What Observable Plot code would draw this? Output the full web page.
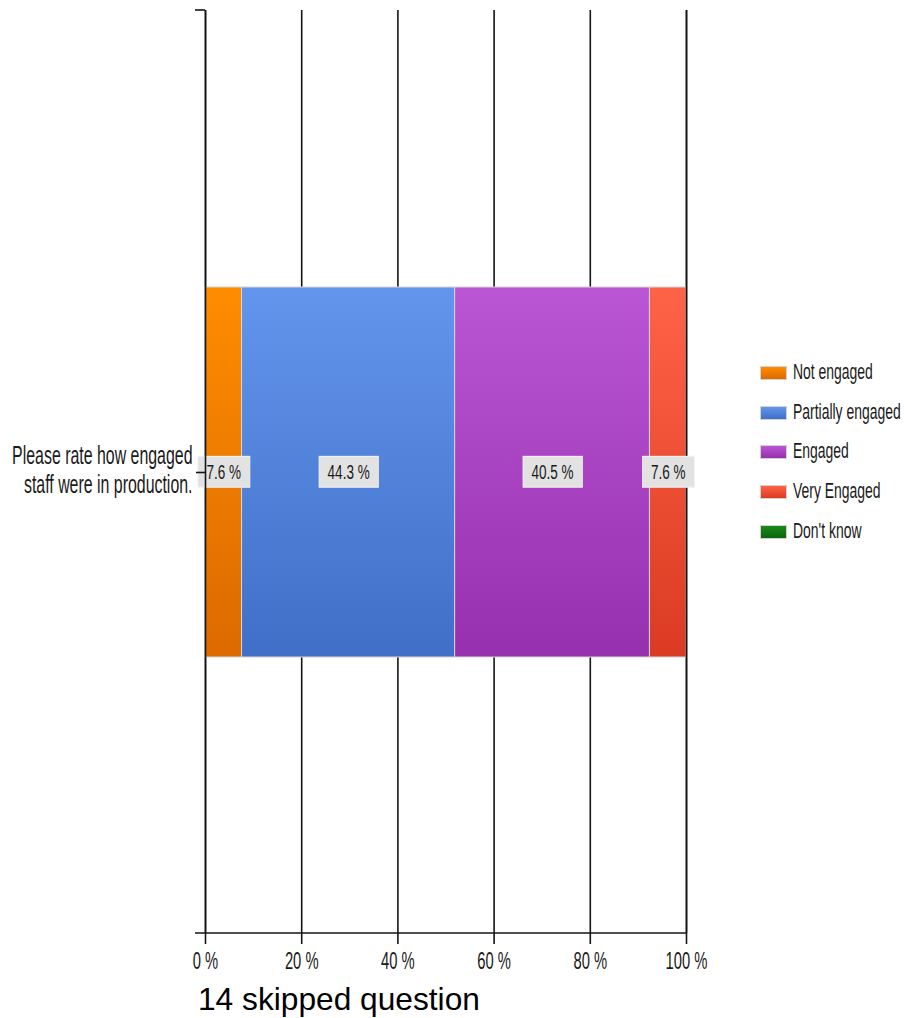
<!DOCTYPE html>
<html>
<head>
<meta charset="utf-8">
<script src="https://cdn.jsdelivr.net/npm/d3@7"></script>
<script src="https://cdn.jsdelivr.net/npm/@observablehq/plot@0.6"></script>
<style>
  html, body { margin: 0; padding: 0; background: #fff; }
  #chart { position: relative; width: 904px; height: 1018px; overflow: hidden; }
  #legend { position: absolute; left: 760px; top: 353px; font-family: "Liberation Sans", Arial, sans-serif; }
  .item { display: flex; align-items: center; height: 39.75px; }
  .sw { width: 27px; height: 14px; box-sizing: border-box; border: 1px solid #d2d2d2; flex: none; }
  .lab { margin-left: 6px; font-size: 17px; color: #1a1a1a; transform: scale(0.82, 1.25); transform-origin: left center; white-space: nowrap; }
  #caption { position: absolute; left: 198px; top: 981px; font-family: "Liberation Sans", Arial, sans-serif; font-size: 31.7px; line-height: 36px; color: #000; white-space: nowrap; }
</style>
</head>
<body>
<div id="chart">
  <div id="legend"></div>
  <div id="caption"></div>
</div>
<script>
// Survey question and answer shares (percent of respondents)
const question = "Please rate how engaged staff were in production.";
const categories = ["Not engaged", "Partially engaged", "Engaged", "Very Engaged", "Don't know"];
const percents = [7.6, 44.3, 40.5, 7.6, 0];
const xTicks = [0, 20, 40, 60, 80, 100];
const skippedCount = 14;

// Palette: each answer is filled with a vertical gradient (light top, darker bottom)
const gradientTop = ["#ff8c00", "#6495ed", "#ba55d3", "#ff6347", "#1a8a1a"];
const gradientBottom = ["#dc6a00", "#3f6fc7", "#9630ae", "#da3b22", "#0b650b"];

const FONT = '"Liberation Sans", Arial, sans-serif';
const INK = "#151515";
const SVGNS = "http://www.w3.org/2000/svg";

// Break a long question into lines of limited length
function wrap(text, maxChars) {
  const lines = [];
  let line = "";
  for (const word of text.split(" ")) {
    const next = line ? line + " " + word : word;
    if (next.length > maxChars && line) { lines.push(line); line = word; }
    else line = next;
  }
  if (line) lines.push(line);
  return lines.join("\n");
}

const pct = v => `${v} %`;

const rows = categories
  .map((category, i) => ({question, category, value: percents[i]}))
  .filter(d => d.value > 0);

// Axis line along the bottom plus the short end stub at the top of the y axis
function axisFrame(index, scales, values, dims) {
  const g = d3.create("svg:g").attr("stroke", INK).attr("stroke-width", 1.6);
  const x0 = scales.x(0), x1 = scales.x(100);
  const top = dims.marginTop, bottom = dims.height - dims.marginBottom;
  g.append("line").attr("x1", x0 - 10).attr("x2", x0).attr("y1", top).attr("y2", top);
  g.append("line").attr("x1", x0 - 10).attr("x2", x1).attr("y1", bottom).attr("y2", bottom);
  return g.node();
}

const svg = Plot.plot({
  width: 904,
  height: 980,
  marginTop: 10,
  marginBottom: 47,
  marginLeft: 205,
  marginRight: 218,
  style: {fontFamily: FONT, color: "#1a1a1a", background: "transparent"},
  x: {domain: [0, 100], ticks: xTicks},
  y: {domain: [question], padding: 0.428},
  color: {type: "ordinal", domain: categories, range: categories.map((_, i) => `url(#grad-${i})`)},
  marks: [
    Plot.ruleX(xTicks, {stroke: INK, strokeWidth: 1.6}),
    Plot.barX(rows, Plot.stackX({x: "value", y: "question", fill: "category", stroke: "#d6d6d6", strokeWidth: 1})),
    Plot.ruleX([100], {stroke: INK, strokeWidth: 1.6}),
    Plot.text(rows, Plot.stackX({x: "value", y: "question", text: d => pct(d.value), fontSize: 16.5, fill: "#1a1a1a"})),
    Plot.ruleX([0], {stroke: INK, strokeWidth: 1.6}),
    axisFrame,
    Plot.axisX({ticks: xTicks, tickFormat: pct, tickSize: 11, tickPadding: 10, fontSize: 18, label: null, stroke: INK, strokeWidth: 1.6}),
    Plot.axisY({tickSize: 9, tickPadding: 4, fontSize: 19.4, lineHeight: 1.12, label: null, stroke: INK, strokeWidth: 1.6, tickFormat: d => wrap(d, 25)})
  ]
});

document.getElementById("chart").prepend(svg);

// Gradient definitions referenced by the color scale
const defs = d3.select(svg).insert("defs", ":first-child");
categories.forEach((c, i) => {
  const lg = defs.append("linearGradient").attr("id", `grad-${i}`)
    .attr("x1", 0).attr("y1", 0).attr("x2", 0).attr("y2", 1);
  lg.append("stop").attr("offset", "0%").attr("stop-color", gradientTop[i]);
  lg.append("stop").attr("offset", "100%").attr("stop-color", gradientBottom[i]);
});

// Narrow, tall lettering: squeeze each text about its anchor in its own space
function stretchText(t, sx, sy, shiftY = 0) {
  const bb = t.getBBox();
  const anchor = getComputedStyle(t).textAnchor;
  const ax = anchor === "end" ? bb.x + bb.width : anchor === "middle" ? bb.x + bb.width / 2 : bb.x;
  const ay = bb.y + bb.height / 2;
  const tr = t.getAttribute("transform") || "";
  t.setAttribute("transform", `${tr} translate(${ax},${ay + shiftY}) scale(${sx},${sy}) translate(${-ax},${-ay})`.trim());
  return bb;
}

const segmentTexts = new Set(rows.map(d => pct(d.value)));
const tickTexts = new Set(xTicks.map(pct));
const questionStart = question.split(" ")[0];

svg.querySelectorAll("text").forEach(t => {
  const content = t.textContent.trim();
  const isSegment = segmentTexts.has(content) && !tickTexts.has(content);
  const isQuestion = content.startsWith(questionStart);
  const bb = stretchText(t, 0.82, isSegment ? 1.2 : 1.3, isQuestion ? -3 : 0);
  if (isSegment) {
    // light grey box behind the value label
    const padX = 10.4, padY = 3.8;
    const rect = document.createElementNS(SVGNS, "rect");
    rect.setAttribute("transform", t.getAttribute("transform"));
    rect.setAttribute("x", bb.x - padX);
    rect.setAttribute("y", bb.y - padY);
    rect.setAttribute("width", bb.width + 2 * padX);
    rect.setAttribute("height", bb.height + 2 * padY);
    rect.setAttribute("fill", "#e2e2e2");
    rect.setAttribute("stroke", "#efefef");
    rect.setAttribute("stroke-width", 1);
    t.parentNode.insertBefore(rect, t);
  }
});

// Legend
const legend = d3.select("#legend");
categories.forEach((c, i) => {
  const item = legend.append("div").attr("class", "item");
  item.append("div").attr("class", "sw")
    .style("background", `linear-gradient(${gradientTop[i]}, ${gradientBottom[i]})`);
  item.append("div").attr("class", "lab").text(c);
});

d3.select("#caption").text(`${skippedCount} skipped question`);
</script>
</body>
</html>
